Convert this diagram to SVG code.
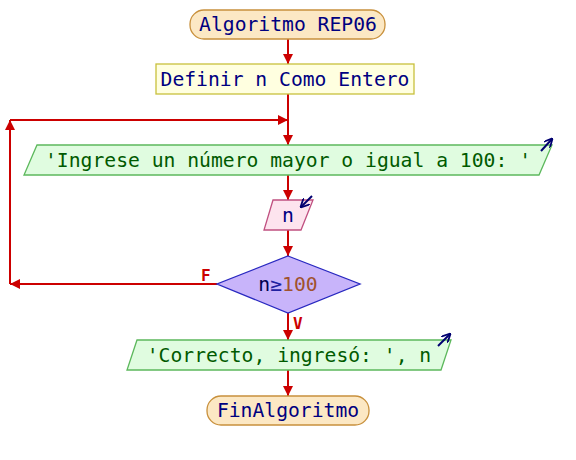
<svg xmlns="http://www.w3.org/2000/svg" width="576" height="460" viewBox="0 0 576 460">
  <style>
    .t { font-family: "DejaVu Sans Mono", "Liberation Mono", monospace; font-size: 19.7px; text-anchor: middle; }
    .navy { fill: #000080; }
    .green { fill: #005a00; }
    .term { fill: #fce8c4; stroke: #c8903c; stroke-width: 1.3; }
    .proc { fill: #ffffe0; stroke: #c8c03c; stroke-width: 1.3; }
    .out { fill: #e0fce0; stroke: #5cb85c; stroke-width: 1.3; }
    .inp { fill: #fde4ee; stroke: #c05080; stroke-width: 1.3; }
    .dec { fill: #c8b4fa; stroke: #2828c0; stroke-width: 1.3; }
    .flow { fill: none; stroke: #cc0000; stroke-width: 2; }
    .io { fill: none; stroke: #000070; stroke-width: 2; }
    .lbl { font-family: "DejaVu Sans Mono", monospace; font-size: 16px; font-weight: bold; fill: #cc0000; }
  </style>
  <defs>
    <marker id="arr" viewBox="0 0 10 10" refX="10" refY="5" markerWidth="10" markerHeight="10" markerUnits="userSpaceOnUse" orient="auto">
      <path d="M0,0 L10,5 L0,10 Z" fill="#cc0000"/>
    </marker>
    <marker id="ioarr" viewBox="0 0 10 10" refX="9" refY="5" markerWidth="9" markerHeight="9" markerUnits="userSpaceOnUse" orient="auto">
      <path d="M0,0 L10,5 L0,10" fill="none" stroke="#000070" stroke-width="2"/>
    </marker>
  </defs>

  <g id="connectors">
    <line class="flow" x1="288" y1="39" x2="288" y2="64" marker-end="url(#arr)"/>
    <line class="flow" x1="288" y1="94" x2="288" y2="145" marker-end="url(#arr)"/>
    <line class="flow" x1="288" y1="175" x2="288" y2="200" marker-end="url(#arr)"/>
    <line class="flow" x1="288" y1="230" x2="288" y2="256" marker-end="url(#arr)"/>
    <line class="flow" x1="288" y1="313" x2="288" y2="340" marker-end="url(#arr)"/>
    <line class="flow" x1="288" y1="370" x2="288" y2="396" marker-end="url(#arr)"/>
    <!-- loop back on F -->
    <line class="flow" x1="217" y1="284" x2="10" y2="284" marker-end="url(#arr)"/>
    <line class="flow" x1="10" y1="284" x2="10" y2="120" marker-end="url(#arr)"/>
    <line class="flow" x1="10" y1="120" x2="288" y2="120" marker-end="url(#arr)"/>
    <text class="lbl" x="201" y="281">F</text>
    <text class="lbl" x="293" y="329">V</text>
  </g>

  <g id="start">
    <rect class="term" x="190" y="10" width="195" height="29" rx="14"/>
    <text class="t navy" x="288" y="31">Algoritmo REP06</text>
  </g>

  <g id="define">
    <rect class="proc" x="156" y="64" width="258" height="30"/>
    <text class="t navy" x="285" y="86">Definir n Como Entero</text>
  </g>

  <g id="prompt">
    <polygon class="out" points="37,145 552,145 539,175 24,175"/>
    <text class="t green" x="288" y="167">'Ingrese un número mayor o igual a 100: '</text>
    <line class="io" x1="541" y1="151" x2="552" y2="139" marker-end="url(#ioarr)"/>
  </g>

  <g id="read">
    <polygon class="inp" points="273,200 313,200 301,230 264,230"/>
    <text class="t navy" x="288" y="222">n</text>
    <line class="io" x1="312" y1="196" x2="301" y2="207" marker-end="url(#ioarr)"/>
  </g>

  <g id="check">
    <polygon class="dec" points="288,256 360,284 288,313 217,284"/>
    <text class="t" x="288" y="291"><tspan fill="#000050">n</tspan><tspan fill="#2020a0">≥</tspan><tspan fill="#a0522d">100</tspan></text>
  </g>

  <g id="result">
    <polygon class="out" points="137,340 451,340 441,370 127,370"/>
    <text class="t green" x="289" y="362">'Correcto, ingresó: ', n</text>
    <line class="io" x1="438" y1="346" x2="450" y2="334" marker-end="url(#ioarr)"/>
  </g>

  <g id="end">
    <rect class="term" x="207" y="396" width="162" height="29" rx="14"/>
    <text class="t navy" x="288" y="417">FinAlgoritmo</text>
  </g>
</svg>
